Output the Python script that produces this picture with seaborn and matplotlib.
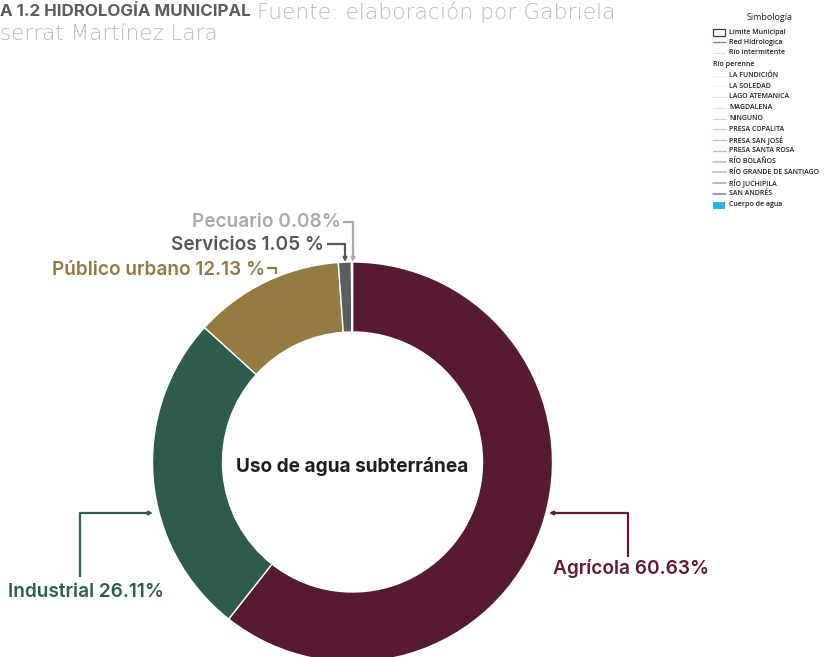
import matplotlib
matplotlib.use("Agg")
import matplotlib.pyplot as plt
from matplotlib.patches import Rectangle
from matplotlib.lines import Line2D
import seaborn as sns

# ---------------- data ----------------
categories = ["Agrícola", "Industrial", "Público urbano", "Servicios", "Pecuario"]
values = [60.63, 26.11, 12.13, 1.05, 0.08]
label_texts = ["Agrícola 60.63%", "Industrial 26.11%", "Público urbano 12.13 %",
               "Servicios 1.05 %", "Pecuario 0.08%"]
center_title = "Uso de agua subterránea"
header_bold = "A 1.2 HIDROLOGÍA MUNICIPAL"
header_light = "Fuente: elaboración por Gabriela"
header_line2 = "serrat Martínez Lara"
legend_title = "Simbología"
legend_top = ["Límite Municipal", "Red Hidrologica", "Río intermitente"]
legend_group = "Río perenne"
legend_rivers = ["LA FUNDICIÓN", "LA SOLEDAD", "LAGO ATEMANICA", "MAGDALENA", "NINGUNO",
                 "PRESA COPALITA", "PRESA SAN JOSÉ", "PRESA SANTA ROSA", "RÍO BOLAÑOS",
                 "RÍO GRANDE DE SANTIAGO", "RÍO JUCHIPILA", "SAN ANDRÉS"]
legend_water = "Cuerpo de agua"

# ---------------- style ----------------
sns.set_theme(style="white")
plt.rcParams['font.family'] = ['Inter', 'DejaVu Sans']

slice_colors = ["#561A32", "#2E5B4E", "#937B44", "#5A5E61", "#B4B4B4"]
text_colors = ["#5E1B34", "#2F5D50", "#927A44", "#545759", "#A9A9A9"]
river_colors = ["#EAF0F6", "#E2EAF3", "#DCE6F1", "#D5E0EC", "#CFD9E4", "#BDD6EE",
                "#A9CBEB", "#98BFE6", "#A5B9D2", "#BFD0E3", "#A7B7CC", "#6F88AC"]
river_widths = [0.6, 0.6, 0.7, 0.7, 0.8, 0.8, 0.9, 0.9, 1.1, 1.5, 1.3, 1.1]

W, H = 824, 657
fig = plt.figure(figsize=(W / 100, H / 100), dpi=100)

# donut geometry in pixels
cx, cy, R = 352.5, 462.0, 200.0
ax = fig.add_axes([(cx - R) / W, (H - (cy + R)) / H, 2 * R / W, 2 * R / H])
ax.pie(values, colors=slice_colors, startangle=90, counterclock=False,
       wedgeprops=dict(width=0.35, edgecolor="white", linewidth=1.0))
ax.set_xlim(-1, 1)
ax.set_ylim(-1, 1)
ax.set_axis_off()


def d(px, py):
    return ((px - cx) / R, (cy - py) / R)


lbl_font = dict(fontsize=13.7, fontweight="semibold")

# center title
ax.text(*d(cx, 466), center_title, ha="center", va="center", fontsize=13.7,
        fontweight="bold", color="#1E1E1E")

arrow_kw = lambda c: dict(arrowstyle="-|>", color=c, lw=1.6, mutation_scale=5,
                          shrinkA=0, shrinkB=0)

# Agrícola
c = text_colors[0]
ax.annotate("", xy=d(549, 513), xytext=d(628, 513), arrowprops=arrow_kw(c), annotation_clip=False)
ax.plot(*zip(d(628, 513), d(628, 557)), color=c, lw=1.6, clip_on=False, solid_capstyle="butt")
ax.text(*d(553, 569), label_texts[0], ha="left", va="center", color=c, **lbl_font)

# Industrial
c = text_colors[1]
ax.annotate("", xy=d(153, 513), xytext=d(80, 513), arrowprops=arrow_kw(c), annotation_clip=False)
ax.plot(*zip(d(80, 513), d(80, 577)), color=c, lw=1.6, clip_on=False, solid_capstyle="butt")
ax.text(*d(8, 592), label_texts[1], ha="left", va="center", color=c, **lbl_font)

# Público urbano
c = text_colors[2]
ax.plot(*zip(d(267, 268), d(276, 268), d(276, 274)), color=c, lw=1.6, clip_on=False,
        solid_capstyle="butt")
ax.text(*d(265, 270), label_texts[2], ha="right", va="center", color=c, **lbl_font)

# Servicios
c = text_colors[3]
ax.plot(*zip(d(327, 244), d(345, 244), d(345, 250)), color=c, lw=1.6, clip_on=False,
        solid_capstyle="butt")
ax.annotate("", xy=d(345, 262), xytext=d(345, 249), arrowprops=arrow_kw(c), annotation_clip=False)
ax.text(*d(324, 245), label_texts[3], ha="right", va="center", color=c, **lbl_font)

# Pecuario
c = text_colors[4]
ax.plot(*zip(d(343, 222), d(353, 222), d(353, 250)), color=c, lw=1.6, clip_on=False,
        solid_capstyle="butt")
ax.annotate("", xy=d(353, 262), xytext=d(353, 249), arrowprops=arrow_kw(c), annotation_clip=False)
ax.text(*d(341, 222), label_texts[4], ha="right", va="center", color=c, **lbl_font)


# ---------------- header ----------------
def f(px, py):
    return (px / W, 1 - py / H)


t1 = fig.text(*f(0, 12), header_bold, ha="left", va="center", fontsize=12.2,
              fontweight="bold", color="#5C5C5C")
fig.canvas.draw()
bb = t1.get_window_extent()
fig.text(*f(bb.x1 + 6, 12), header_light, ha="left", va="center", fontsize=15.7,
         fontweight="light", color="#BBBBBB", family=["DejaVu Sans"])
fig.text(*f(0, 34), header_line2, ha="left", va="center", fontsize=15.5,
         fontweight="light", color="#BBBBBB", family=["DejaVu Sans"])

# ---------------- map legend ----------------
lg_font = dict(fontsize=5, fontweight="semibold", color="#222222", va="center", ha="left",
               family=["Open Sans", "DejaVu Sans"])
fig.text(*f(770, 17), legend_title, fontsize=6.5, color="#222222", ha="center", va="center",
         family=["Open Sans", "DejaVu Sans"])
hx0, hx1, tx = 713, 725, 729
ys_top = [32, 42, 53]
fig.patches.append(Rectangle(f(hx0, ys_top[0] + 3.5), (hx1 - hx0) / W, 7 / H,
                             transform=fig.transFigure, facecolor="white",
                             edgecolor="#3A3A3A", lw=0.9))
fig.lines.append(Line2D([hx0 / W, hx1 / W], [1 - ys_top[1] / H] * 2,
                        transform=fig.transFigure, color="#4A94D8", lw=1.0))
fig.lines.append(Line2D([hx0 / W, hx1 / W], [1 - ys_top[2] / H] * 2,
                        transform=fig.transFigure, color="#9ED2F2", lw=0.9,
                        linestyle=(0, (1, 1))))
for name, y in zip(legend_top, ys_top):
    fig.text(*f(tx, y), name, **lg_font)
fig.text(*f(hx0, 64), legend_group, **lg_font)
y0, step = 75.5, 10.75
for i, (name, col, lw) in enumerate(zip(legend_rivers, river_colors, river_widths)):
    y = y0 + i * step
    fig.lines.append(Line2D([hx0 / W, (hx1 + 1) / W], [1 - y / H] * 2,
                            transform=fig.transFigure, color=col, lw=lw))
    fig.text(*f(tx, y), name, **lg_font)
yw = y0 + len(legend_rivers) * step
fig.patches.append(Rectangle(f(hx0, yw + 4), (hx1 - hx0) / W, 7 / H,
                             transform=fig.transFigure, facecolor="#2BB7D3",
                             edgecolor="none"))
fig.text(*f(tx, yw), legend_water, **lg_font)

fig.savefig("out.png", dpi=100)
